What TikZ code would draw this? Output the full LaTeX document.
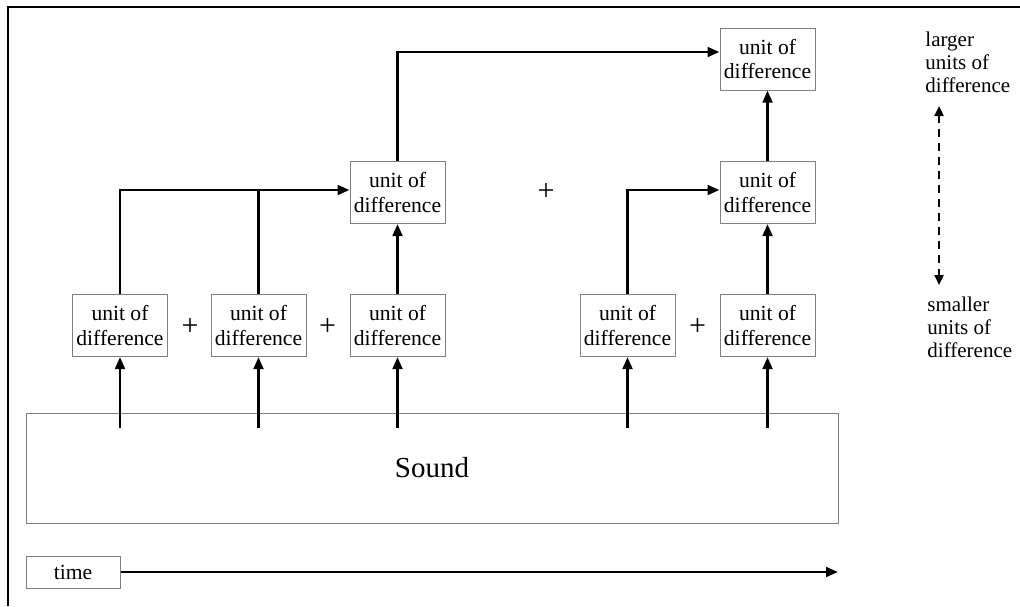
\documentclass[tikz,border=0pt]{standalone}
\usepackage{fontspec}
\setmainfont{Liberation Serif}
\usetikzlibrary{arrows.meta,calc}
\begin{document}
\begin{tikzpicture}[x=0.5pt,y=-0.5pt,
  unitbox/.style={draw=black!50,line width=0.5pt,minimum width=47.5pt,minimum height=31pt,
    inner sep=0pt,align=center,font=\fontsize{10.8}{12.4}\selectfont},
  arr/.style={line width=1.4pt,-{Triangle[length=6pt,width=4.8pt]}},
  link/.style={line width=1.4pt},
  plus/.style={font=\fontsize{15}{17}\selectfont,inner sep=0pt},
  side/.style={align=left,anchor=north west,inner sep=0pt,font=\fontsize{10.5}{11.4}\selectfont}]
\useasboundingbox (0,0) rectangle (1020,606);
% frame edges
\draw[line width=0.8pt] (8,606) -- (8,7) -- (1020,7);

% the sound and the time axis
\node[draw=black!50,line width=0.5pt,minimum width=406pt,minimum height=55pt,inner sep=0pt,
  font=\fontsize{14.5}{16}\selectfont] (snd) at (432,468) {Sound};
\node[draw=black!50,line width=0.5pt,minimum width=47pt,minimum height=16pt,inner sep=0pt,
  font=\fontsize{10.8}{12}\selectfont] (tm) at (73,572) {time};
\coordinate (tend) at (838,572);
\draw[arr] (tm.east) -- (tend);

% smallest units
\node[unitbox] (u1) at (120,325.5) {unit of\\difference};
\node[unitbox] (u2) at (258.5,325.5) {unit of\\difference};
\node[unitbox] (u3) at (397.5,325.5) {unit of\\difference};
\node[unitbox] (u4) at (627.5,325.5) {unit of\\difference};
\node[unitbox] (u5) at (767.5,325.5) {unit of\\difference};

% middle units
\node[unitbox] (m1) at (397.5,192.5) {unit of\\difference};
\node[unitbox] (m2) at (767.5,192.5) {unit of\\difference};

% largest unit
\node[unitbox] (t) at (767.5,59) {unit of\\difference};

% plus signs
\node[plus] (p1) at (190,327) {+};
\node[plus] (p2) at (327.5,327) {+};
\node[plus] (p3) at (697.5,327) {+};
\node[plus] (p4) at (546,192) {+};

% from the sound up to the smallest units
\foreach \u in {u1,u2,u3,u4,u5}
  \draw[arr] ($(\u.south |- snd.north)+(0,15)$) -- (\u.south);

% grouping into middle units
\coordinate (m1in) at ($(m1.west)+(0,-2.5)$);
\draw[arr] (u1.north) |- (m1in);
\draw[link] (u2.north) -- (u2.north |- m1in);
\draw[arr] (u3.north) -- (m1.south);
\coordinate (m2in) at ($(m2.west)+(0,-2.5)$);
\draw[arr] (u4.north) |- (m2in);
\draw[arr] (u5.north) -- (m2.south);

% grouping into the largest unit
\coordinate (tin) at ($(t.west)+(0,-7)$);
\draw[arr] (m1.north) |- (tin);
\draw[arr] (m2.north) -- (t.south);

% scale of units
\node[side] (lg) at (925,32) {larger\\units of\\difference};
\node[side] (sm) at (927,297) {smaller\\units of\\difference};
\coordinate (dtop) at (939,106);
\coordinate (dbot) at (939,285);
\draw[line width=1.1pt,dash pattern=on 4pt off 3pt,
  {Triangle[length=5pt,width=4.5pt]}-{Triangle[length=5pt,width=4.5pt]}] (dtop) -- (dbot);
\end{tikzpicture}
\end{document}
